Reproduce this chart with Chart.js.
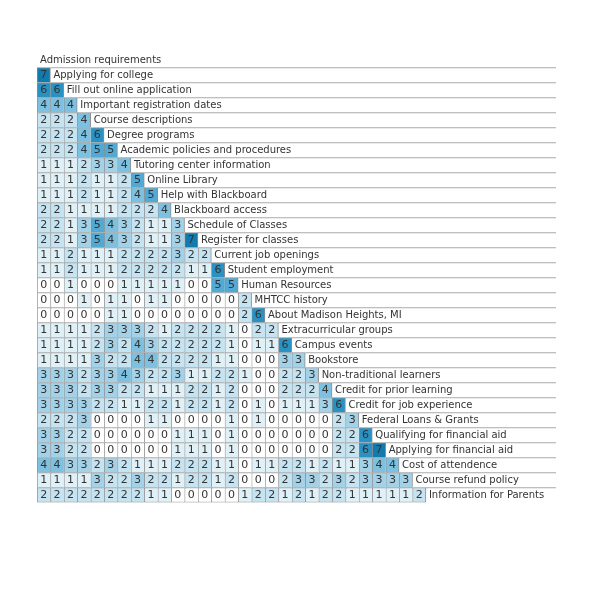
<!DOCTYPE html>
<html>
<head>
<meta charset="utf-8">
<script src="https://cdn.jsdelivr.net/npm/chart.js@4/dist/chart.umd.min.js"></script>
<style>
    html, body { margin: 0; padding: 0; background: #ffffff; }
    #wrap { width: 600px; height: 600px; position: relative; }
</style>
</head>
<body>
<div id="wrap"><canvas id="matrixChart"></canvas></div>
<script>
// Topics (one row each, in order)
const topics = [
    'Admission requirements',
    'Applying for college',
    'Fill out online application',
    'Important registration dates',
    'Course descriptions',
    'Degree programs',
    'Academic policies and procedures',
    'Tutoring center information',
    'Online Library',
    'Help with Blackboard',
    'Blackboard access',
    'Schedule of Classes',
    'Register for classes',
    'Current job openings',
    'Student employment',
    'Human Resources',
    'MHTCC history',
    'About Madison Heights, MI',
    'Extracurricular groups',
    'Campus events',
    'Bookstore',
    'Non-traditional learners',
    'Credit for prior learning',
    'Credit for job experience',
    'Federal Loans & Grants',
    'Qualifying for financial aid',
    'Applying for financial aid',
    'Cost of attendence',
    'Course refund policy',
    'Information for Parents'
];

// Pair counts: row i holds values against topics 0..i-1
const pairCounts = [
    [],
    [7],
    [6, 6],
    [4, 4, 4],
    [2, 2, 2, 4],
    [2, 2, 2, 4, 6],
    [2, 2, 2, 4, 5, 5],
    [1, 1, 1, 2, 3, 3, 4],
    [1, 1, 1, 2, 1, 1, 2, 5],
    [1, 1, 1, 2, 1, 1, 2, 4, 5],
    [2, 2, 1, 1, 1, 1, 2, 2, 2, 4],
    [2, 2, 1, 3, 5, 4, 3, 2, 1, 1, 3],
    [2, 2, 1, 3, 5, 4, 3, 2, 1, 1, 3, 7],
    [1, 1, 2, 1, 1, 1, 2, 2, 2, 2, 3, 2, 2],
    [1, 1, 2, 1, 1, 1, 2, 2, 2, 2, 2, 1, 1, 6],
    [0, 0, 1, 0, 0, 0, 1, 1, 1, 1, 1, 0, 0, 5, 5],
    [0, 0, 0, 1, 0, 1, 1, 0, 1, 1, 0, 0, 0, 0, 0, 2],
    [0, 0, 0, 0, 0, 1, 1, 0, 0, 0, 0, 0, 0, 0, 0, 2, 6],
    [1, 1, 1, 1, 2, 3, 3, 3, 2, 1, 2, 2, 2, 2, 1, 0, 2, 2],
    [1, 1, 1, 1, 2, 3, 2, 4, 3, 2, 2, 2, 2, 2, 1, 0, 1, 1, 6],
    [1, 1, 1, 1, 3, 2, 2, 4, 4, 2, 2, 2, 2, 1, 1, 0, 0, 0, 3, 3],
    [3, 3, 3, 2, 3, 3, 4, 3, 2, 2, 3, 1, 1, 2, 2, 1, 0, 0, 2, 2, 3],
    [3, 3, 3, 2, 3, 3, 2, 2, 1, 1, 1, 2, 2, 1, 2, 0, 0, 0, 2, 2, 2, 4],
    [3, 3, 3, 3, 2, 2, 1, 1, 2, 2, 1, 2, 2, 1, 2, 0, 1, 0, 1, 1, 1, 3, 6],
    [2, 2, 2, 3, 0, 0, 0, 0, 1, 1, 0, 0, 0, 0, 1, 0, 1, 0, 0, 0, 0, 0, 2, 3],
    [3, 3, 2, 2, 0, 0, 0, 0, 0, 0, 1, 1, 1, 0, 1, 0, 0, 0, 0, 0, 0, 0, 2, 2, 6],
    [3, 3, 2, 2, 0, 0, 0, 0, 0, 0, 1, 1, 1, 0, 1, 0, 0, 0, 0, 0, 0, 0, 2, 2, 6, 7],
    [4, 4, 3, 3, 2, 3, 2, 1, 1, 1, 2, 2, 2, 1, 1, 0, 1, 1, 2, 2, 1, 2, 1, 1, 3, 4, 4],
    [1, 1, 1, 1, 3, 2, 2, 3, 2, 2, 1, 2, 2, 1, 2, 0, 0, 0, 2, 3, 3, 2, 3, 2, 3, 3, 3, 3],
    [2, 2, 2, 2, 2, 2, 2, 2, 1, 1, 0, 0, 0, 0, 0, 1, 2, 2, 1, 2, 1, 2, 2, 1, 1, 1, 1, 1, 2]
];

// Fill colour by count (0..7)
const shades = ['#ffffff', '#e0f0f7', '#c5e3f0', '#a3d2e8', '#7dc0df', '#52a9d3', '#2a91c3', '#127aad'];

const GRID = '#8e8e8e';
const TEXT = '#333333';
const X_MAX = 38.7;   // right end of the label boxes, in cell units
const n = topics.length;

// One dataset per column of cells
const datasets = [];
for (let k = 0; k < n - 1; k++) {
    datasets.push({
        label: 'col' + k,
        data: topics.map((t, i) => (k < i ? [k, k + 1] : null)),
        backgroundColor: ctx => shades[pairCounts[ctx.dataIndex][k]] || '#ffffff',
        borderColor: GRID,
        borderWidth: ctx => {
            const i = ctx.dataIndex;
            return {
                top: 1,
                left: 1,
                right: k === i - 1 ? 1 : 0,
                bottom: i === n - 1 ? 1 : 0
            };
        },
        borderSkipped: false,
        grouped: false,
        barPercentage: 1,
        categoryPercentage: 1
    });
}

// Label boxes to the right of each row
datasets.push({
    label: 'labels',
    data: topics.map((t, i) => [i, X_MAX]),
    backgroundColor: '#ffffff',
    borderColor: GRID,
    borderWidth: ctx => (ctx.dataIndex === 0 ? 0 : { top: 1, left: 0, right: 0, bottom: 0 }),
    borderSkipped: false,
    grouped: false,
    barPercentage: 1,
    categoryPercentage: 1
});

// Write the numbers and topic names on top of the bars
const matrixText = {
    id: 'matrixText',
    afterDatasetsDraw(chart) {
        const c = chart.ctx;
        const xs = chart.scales.x;
        const ys = chart.scales.y;
        c.save();
        c.fillStyle = TEXT;
        c.textBaseline = 'middle';
        for (let i = 0; i < n; i++) {
            const y = ys.getPixelForValue(i) + 0.5;
            c.textAlign = 'center';
            c.font = '11px "DejaVu Sans", Verdana, sans-serif';
            pairCounts[i].forEach((v, k) => {
                c.fillText(String(v), xs.getPixelForValue(k + 0.5), y);
            });
            c.textAlign = 'left';
            c.font = '10px "DejaVu Sans", Verdana, sans-serif';
            c.fillText(topics[i], xs.getPixelForValue(i) + 3, y);
        }
        c.restore();
    }
};

new Chart(document.getElementById('matrixChart'), {
    type: 'bar',
    data: { labels: topics, datasets: datasets },
    plugins: [matrixText],
    options: {
        indexAxis: 'y',
        responsive: true,
        maintainAspectRatio: false,
        animation: false,
        layout: {
            padding: { left: 37, right: 44, top: 52.5, bottom: 97.5 }
        },
        scales: {
            x: { type: 'linear', display: false, min: 0, max: X_MAX },
            y: { type: 'category', display: false, offset: true }
        },
        plugins: {
            legend: { display: false },
            tooltip: { enabled: false }
        }
    }
});
</script>
</body>
</html>
